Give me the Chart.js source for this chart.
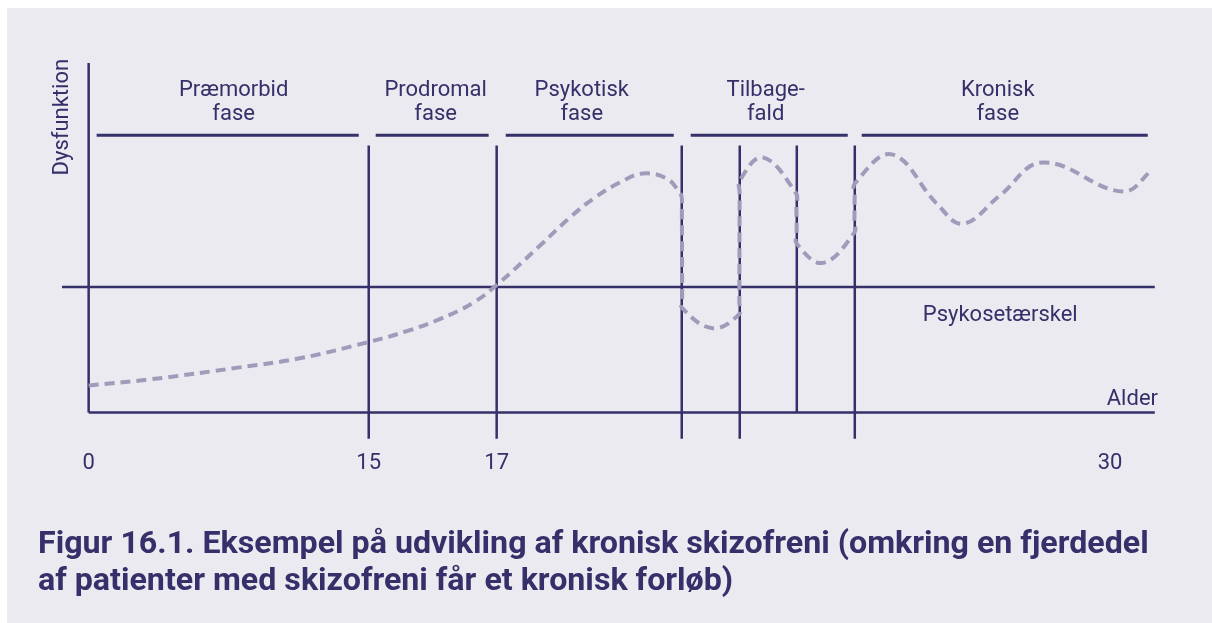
<!DOCTYPE html>
<html>
<head>
<meta charset="utf-8">
<script src="https://cdn.jsdelivr.net/npm/chart.js@4"></script>
<style>
  html, body { margin: 0; padding: 0; background: #ffffff; }
  #wrap { position: absolute; left: 7px; top: 8px; width: 1205px; height: 615px; background: #ebeaf0; }
</style>
</head>
<body>
<div id="wrap"><canvas id="chart" width="1205" height="615"></canvas></div>
<script>
// x in layout units (0 = y axis, 100 = end of x axis), y in dysfunction units (0 = x axis)
const phaseNames = [['Præmorbid', 'fase'], ['Prodromal', 'fase'], ['Psykotisk', 'fase'], ['Tilbage-', 'fald'], ['Kronisk', 'fase']];
const phaseStart = [0.75, 26.92, 39.12, 56.47, 72.51];
const phaseEnd = [25.33, 37.52, 54.88, 71.2, 99.34];
const phaseLabelX = [13.6, 32.55, 46.25, 63.5, 85.27];
const dividerX = [26.27, 38.27, 55.63, 61.07, 66.42, 71.86];
const dividerBottom = [-7.5, -7.5, -7.5, -7.5, 0, -7.5];
const tickPos = [0, 26.27, 38.27, 95.8];
const tickLabels = ['0', '15', '17', '30'];
const threshold = 35.9;
const curveX = [0, 5.72, 14.17, 19.79, 26.17, 29.83, 32.93, 36.02, 38.27, 42.31, 45.12, 47.47, 49.81, 51.97, 54.22, 55.44,
  55.63, 55.64, 55.67, 55.68, 58.54,
  61.02, 61.03, 61.06, 61.07, 63.23,
  66.37, 66.38, 66.41, 66.42, 68.86,
  71.81, 71.82, 71.85, 71.86, 75.33,
  79.55, 81.99, 85.46, 89.49, 96.99, 99.81];
const curveY = [7.76, 9.48, 12.93, 15.52, 20.11, 23.28, 26.72, 31.32, 36.49, 47.7, 55.75, 61.49, 65.8, 68.39, 66.95, 62.93,
  61.49, 57.76, 33.33, 29.89, 24.14,
  28.16, 31.61, 62.93, 66.38, 72.99,
  62.64, 59.2, 51.72, 48.28, 42.82,
  51.44, 54.89, 62.07, 65.52, 73.85,
  59.77, 54.02, 62.07, 71.55, 63.22, 69.54];

const ink = '#35306a';
const dash = '#9f9bbb';

// segment helper: pairs of points separated by gaps
function segments(list) {
  const out = [];
  list.forEach((s, i) => {
    if (i > 0) out.push({ x: s[0].x, y: null });
    out.push(s[0], s[1]);
  });
  return out;
}

const axisLines = segments([
  [{ x: 0, y: 0 }, { x: 0, y: 100 }],
  [{ x: 0, y: 0 }, { x: 100, y: 0 }],
  [{ x: -2.5, y: threshold }, { x: 100, y: threshold }]
]);
const dividers = segments(dividerX.map((x, i) => [{ x: x, y: dividerBottom[i] }, { x: x, y: 76.4 }]));
const phaseBars = segments(phaseStart.map((s, i) => [{ x: s, y: 79.3 }, { x: phaseEnd[i], y: 79.3 }]));

const textPlugin = {
  id: 'texts',
  afterDatasetsDraw(chart) {
    const { ctx, scales: { x, y } } = chart;
    ctx.save();
    ctx.fillStyle = ink;
    ctx.font = '22px Roboto';
    ctx.textAlign = 'center';
    ctx.textBaseline = 'alphabetic';
    phaseNames.forEach((lines, i) => {
      ctx.fillText(lines[0], x.getPixelForValue(phaseLabelX[i]), y.getPixelForValue(90.5));
      ctx.fillText(lines[1], x.getPixelForValue(phaseLabelX[i]), y.getPixelForValue(83.6));
    });
    ctx.textAlign = 'left';
    ctx.fillText('Psykosetærskel', x.getPixelForValue(78.24), y.getPixelForValue(26.15));
    ctx.textAlign = 'right';
    ctx.fillText('Alder', x.getPixelForValue(100.3), y.getPixelForValue(2.3));
    ctx.translate(x.getPixelForValue(-2.44), y.getPixelForValue(84.5));
    ctx.rotate(-Math.PI / 2);
    ctx.textAlign = 'center';
    ctx.textBaseline = 'middle';
    ctx.fillText('Dysfunktion', 0, 0);
    ctx.restore();
  }
};

Chart.defaults.font.family = 'Roboto';
Chart.defaults.color = ink;

new Chart(document.getElementById('chart'), {
  type: 'line',
  data: {
    datasets: [
      {
        data: curveX.map((v, i) => ({ x: v, y: curveY[i] })),
        borderColor: dash, borderWidth: 4, borderDash: [10, 6],
        tension: 0.4, pointRadius: 0, order: 0, clip: false
      },
      { data: axisLines, borderColor: ink, borderWidth: 2.5, pointRadius: 0, order: 1, clip: false, spanGaps: false },
      { data: dividers, borderColor: ink, borderWidth: 2.5, pointRadius: 0, order: 1, clip: false, spanGaps: false },
      { data: phaseBars, borderColor: ink, borderWidth: 3, pointRadius: 0, order: 1, clip: false, spanGaps: false }
    ]
  },
  options: {
    responsive: false,
    animation: false,
    layout: { padding: { left: 31, right: 54, top: 55, bottom: 0 } },
    scales: {
      x: {
        type: 'linear', min: -2.5, max: 100.3,
        grid: { display: false, drawTicks: false }, border: { display: false },
        afterBuildTicks: s => { s.ticks = tickPos.map(v => ({ value: v })); },
        afterFit: s => { s.height = 75.5; },
        ticks: { autoSkip: false, maxRotation: 0, padding: 12, font: { size: 22 }, callback: (v, i) => tickLabels[i] }
      },
      y: {
        type: 'linear', min: -7.5, max: 100,
        grid: { display: false }, border: { display: false },
        ticks: { display: false },
        afterFit: s => { s.width = 24; }
      }
    },
    plugins: {
      legend: { display: false },
      tooltip: { enabled: false },
      title: {
        display: true, position: 'bottom', align: 'start',
        text: ['Figur 16.1. Eksempel på udvikling af kronisk skizofreni (omkring en fjerdedel',
               'af patienter med skizofreni får et kronisk forløb)'],
        font: { size: 32.2, weight: 'bold', lineHeight: 1.16 },
        padding: { top: 12, bottom: 22 }
      }
    }
  },
  plugins: [textPlugin]
});
</script>
</body>
</html>
